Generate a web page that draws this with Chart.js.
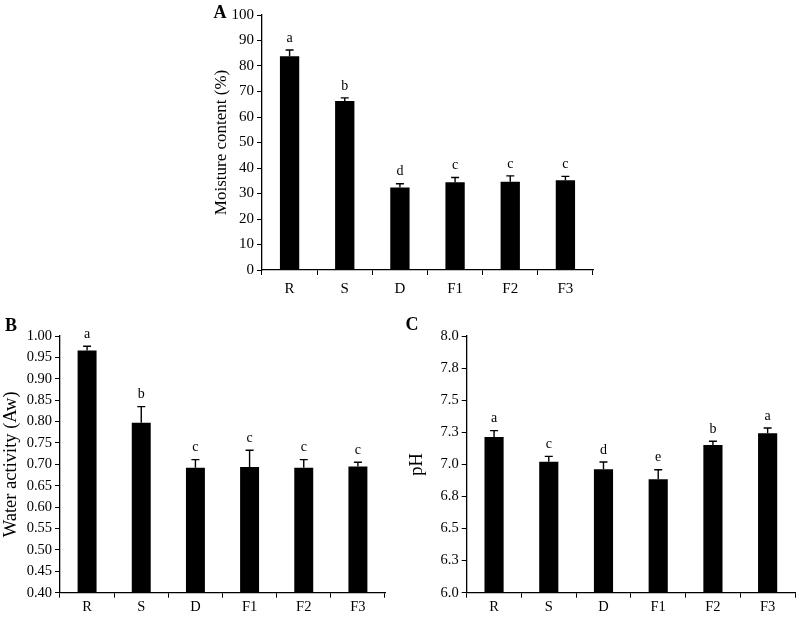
<!DOCTYPE html>
<html>
<head>
<meta charset="utf-8">
<script src="https://cdn.jsdelivr.net/npm/chart.js@4.4.0/dist/chart.umd.min.js"></script>
<style>
  body { margin: 0; background: #fff; }
  #wrap { position: relative; width: 798px; height: 618px; overflow: hidden; }
  .panel { position: absolute; }
</style>
</head>
<body>
<div id="wrap">
  <div class="panel" style="left:200px;top:0;width:400px;height:300px"><canvas id="graficoA"></canvas></div>
  <div class="panel" style="left:0;top:310px;width:400px;height:308px"><canvas id="graficoB"></canvas></div>
  <div class="panel" style="left:400px;top:310px;width:398px;height:308px"><canvas id="graficoC"></canvas></div>
</div>
<script>
// dados
const amostras = ['R', 'S', 'D', 'F1', 'F2', 'F3'];

const umidade = [83.8, 66.3, 32.4, 34.4, 34.6, 35.2];
const umidadeErro = [2.5, 1.2, 1.4, 1.9, 2.3, 1.5];
const umidadeLetras = ['a', 'b', 'd', 'c', 'c', 'c'];

const aw = [0.966, 0.797, 0.692, 0.694, 0.692, 0.695];
const awErro = [0.010, 0.038, 0.019, 0.039, 0.019, 0.010];
const awLetras = ['a', 'b', 'c', 'c', 'c', 'c'];

const ph = [7.213, 7.02, 6.961, 6.883, 7.150, 7.242];
const phErro = [0.05, 0.042, 0.057, 0.075, 0.03, 0.041];
const phLetras = ['a', 'c', 'd', 'e', 'b', 'a'];
const phTicks = ['6.0', '6.3', '6.5', '6.8', '7.0', '7.3', '7.5', '7.8', '8.0'];

const fonte = "'Liberation Serif', 'Times New Roman', serif";

// barras de erro + letras + letra do painel
const barrasErro = {
    id: 'barrasErro',
    afterDatasetsDraw(chart, args, opts) {
        const ctx = chart.ctx;
        const meta = chart.getDatasetMeta(0);
        const y = chart.scales.y;
        const dados = chart.data.datasets[0].data;
        ctx.save();
        ctx.strokeStyle = '#000';
        ctx.lineWidth = 1.4;
        ctx.fillStyle = '#000';
        ctx.font = '14px ' + fonte;
        ctx.textAlign = 'center';
        ctx.textBaseline = 'bottom';
        meta.data.forEach((barra, i) => {
            const topo = y.getPixelForValue(dados[i] + opts.erros[i]);
            ctx.beginPath();
            ctx.moveTo(barra.x, barra.y);
            ctx.lineTo(barra.x, topo);
            ctx.moveTo(barra.x - 4, topo);
            ctx.lineTo(barra.x + 4, topo);
            ctx.stroke();
            ctx.fillText(opts.letras[i], barra.x, topo - 5);
        });
        ctx.font = 'bold 18px ' + fonte;
        ctx.textBaseline = 'middle';
        ctx.fillText(opts.painel, opts.px, opts.py);
        ctx.restore();
    }
};

function grafico(id, cfg) {
    const ctx = document.getElementById(id).getContext('2d');
    return new Chart(ctx, {
        type: 'bar',
        data: {
            labels: amostras,
            datasets: [{
                data: cfg.dados,
                backgroundColor: '#000',
                barPercentage: 0.35,
                categoryPercentage: 1
            }]
        },
        plugins: [barrasErro],
        options: {
            responsive: true,
            maintainAspectRatio: false,
            animation: false,
            layout: { padding: cfg.padding },
            plugins: {
                legend: { display: false },
                tooltip: { enabled: false },
                barrasErro: {
                    erros: cfg.erros,
                    letras: cfg.letras,
                    painel: cfg.painel,
                    px: cfg.px,
                    py: cfg.py
                }
            },
            scales: {
                x: {
                    border: { display: true, color: '#000', width: 1.3 },
                    grid: { display: true, offset: true, drawOnChartArea: false, drawTicks: true, tickLength: 5, color: '#000', lineWidth: 1 },
                    ticks: { color: '#000', font: { family: fonte, size: cfg.tamFonte }, padding: cfg.xPad, maxRotation: 0 },
                    afterFit(s) { s.height = cfg.xAltura; }
                },
                y: {
                    min: cfg.min,
                    max: cfg.max,
                    border: { display: true, color: '#000', width: 1.3 },
                    grid: { display: true, drawOnChartArea: false, drawTicks: true, tickLength: 5, color: '#000', lineWidth: 1 },
                    ticks: {
                        stepSize: cfg.passo,
                        color: '#000',
                        padding: 3,
                        font: { family: fonte, size: cfg.tamFonte },
                        callback: cfg.rotulo
                    },
                    title: {
                        display: true,
                        text: cfg.titulo,
                        color: '#000',
                        font: { family: fonte, size: cfg.tamTitulo },
                        padding: { top: cfg.tituloPad, bottom: 0 }
                    },
                    afterFit(s) { s.width = cfg.yLargura; }
                }
            }
        }
    });
}

grafico('graficoA', {
    dados: umidade, erros: umidadeErro, letras: umidadeLetras,
    min: 0, max: 100, passo: 10,
    rotulo: (v) => v,
    titulo: 'Moisture content (%)', tituloPad: 11, tamTitulo: 17,
    painel: 'A', px: 20, py: 13,
    padding: { top: 15, right: 7, left: 0, bottom: 0 },
    yLargura: 62, xAltura: 30, xPad: 5, tamFonte: 15
});

grafico('graficoB', {
    dados: aw, erros: awErro, letras: awLetras,
    min: 0.4, max: 1.0, passo: 0.05,
    rotulo: (v) => v.toFixed(2),
    titulo: 'Water activity (Aw)', tituloPad: 0, tamTitulo: 18.5,
    painel: 'B', px: 11, py: 16,
    padding: { top: 26, right: 15, left: 0, bottom: 0 },
    yLargura: 60, xAltura: 25.3, xPad: 1, tamFonte: 14.5
});

grafico('graficoC', {
    dados: ph, erros: phErro, letras: phLetras,
    min: 6.0, max: 8.0, passo: 0.25,
    rotulo: (v, i) => phTicks[i],
    titulo: 'pH', tituloPad: 6, tamTitulo: 18.5,
    painel: 'C', px: 12, py: 15,
    padding: { top: 26, right: 3, left: 0, bottom: 0 },
    yLargura: 66.7, xAltura: 25.3, xPad: 1, tamFonte: 14.5
});
</script>
</body>
</html>
